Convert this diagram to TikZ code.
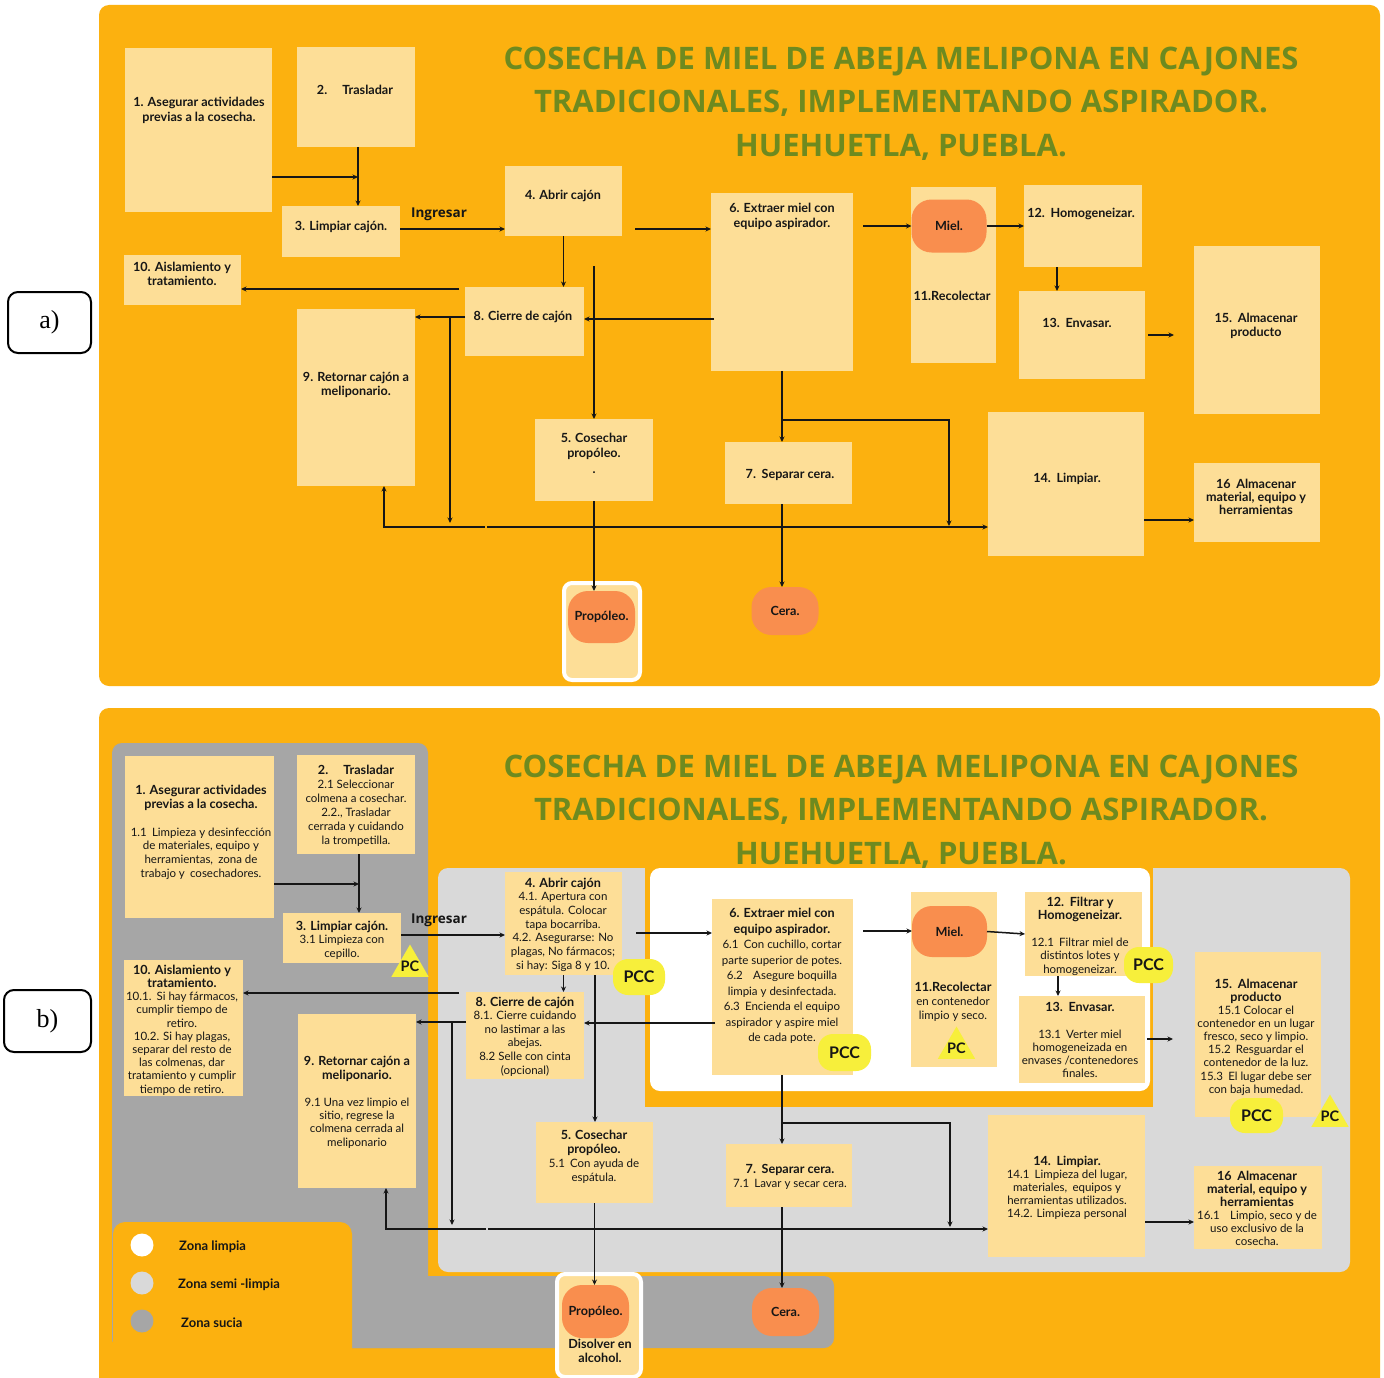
\documentclass[tikz,border=0pt]{standalone}
\usepackage{fontspec}
\setmainfont{Lato}
\newfontfamily\titlefont{Open Sans}
\newfontfamily\labfont{Liberation Serif}
\usetikzlibrary{shapes.geometric,arrows.meta}

\definecolor{bgor}{HTML}{FCB10F}
\definecolor{paley}{HTML}{FDDE97}
\definecolor{orc}{HTML}{F98E4E}
\definecolor{olive}{HTML}{6E8A1F}
\definecolor{dgray}{HTML}{A6A6A6}
\definecolor{lgray}{HTML}{D9D9D9}
\definecolor{ylw}{HTML}{F7EF3B}
\definecolor{ink}{HTML}{161616}

\newcommand\fs[2]{\fontsize{#1}{#2}\selectfont}
\newcommand\gp{\hspace{0.45em}}
% bold heading inside a step box, same line spacing as the box text
\newcommand\hb[1]{{\fontsize{12.6}{\the\baselineskip}\selectfont\bfseries #1}}
% box given by its corners (x1,y1) - (x2,y2), y growing downwards
\newcommand\mkbox[5]{\node[box,anchor=north west,minimum width={#4-#2},minimum height={#5-#3}] (#1) at (#2,#3) {};}

\tikzset{
  box/.style={fill=paley, inner sep=0, outer sep=0},
  tx/.style={align=center, inner sep=0, text=ink, font=\fs{11.5}{#1}, yshift=-2.5pt,
    execute at begin node=\strut, execute at end node=\strut},
  tx/.default=13.5,
  txa/.style={tx=#1, font=\fs{12.6}{#1}\bfseries},
  txa/.default=14,
  ttl/.style={align=center, inner sep=0, text=olive,
    font=\titlefont\bfseries\fs{31}{43.5},
    execute at begin node=\strut, execute at end node=\strut},
  ingr/.style={inner sep=0, text=ink, font=\titlefont\bfseries\fs{13.5}{16}},
  blob/.style={fill=orc, rounded corners=20pt, inner sep=0, outer sep=0, text=ink,
    font=\fs{12.6}{14}\bfseries},
  frame/.style={fill=paley, draw=white, line width=4pt, rounded corners=8pt, inner sep=0},
  pcc/.style={fill=ylw, rounded corners=15pt, inner sep=0, text=ink, font=\fs{16}{18}\bfseries},
  pc/.style={regular polygon, regular polygon sides=3, fill=ylw, inner sep=0, minimum size=43pt},
  pctx/.style={inner sep=0, text=ink, font=\fs{14.5}{16}\bfseries},
  lab/.style={draw=black, line width=2pt, rounded corners=10pt, fill=white, inner sep=0,
    font=\labfont\fs{26}{30}},
  dot/.style={circle, inner sep=0, minimum size=23pt},
  legtx/.style={anchor=west, inner sep=0, text=ink, font=\fs{13}{15}\bfseries},
  arr/.style={draw=ink, line width=1.5pt, -{Stealth[length=5.5pt,width=5pt]}},
}

\begin{document}
\begin{tikzpicture}[x=1pt,y=-1pt]
\useasboundingbox (0,0) rectangle (1384,1378);
\fill[white] (0,0) rectangle (1384,1378);

% ---------------- panel labels ----------------
\node[lab, minimum width=83, minimum height=61] (laba) at (49.5,322.5) {a)};
\node[lab, minimum width=87, minimum height=62] (labb) at (47.5,1021) {b)};

% ================= panel a =================
\fill[bgor, rounded corners=10pt] (99,5) rectangle (1380,686);
\node[ttl] (ttla) at (901,108) {COSECHA DE MIEL DE ABEJA MELIPONA EN CAJONES\\TRADICIONALES, IMPLEMENTANDO ASPIRADOR.\hspace*{0.8em}\\HUEHUETLA, PUEBLA.};

\mkbox{a1}{125}{48}{272}{212}
\mkbox{a2}{297}{47}{415}{147}
\mkbox{a3}{282}{206}{400}{257}
\mkbox{a4}{505}{166}{622}{236}
\mkbox{a6}{711}{193}{853}{371}
\mkbox{a11}{911}{187}{996}{363}
\mkbox{a12}{1024}{185}{1142}{267}
\mkbox{a13}{1019}{291}{1145}{379}
\mkbox{a15}{1194}{246}{1320}{414}
\mkbox{a10}{124}{255}{241}{305}
\mkbox{a8}{465}{287}{584}{356}
\mkbox{a9}{297}{309}{415}{486}
\mkbox{a5}{535}{419}{653}{501}
\mkbox{a7}{725}{442}{852}{504}
\mkbox{a14}{988}{412}{1144}{556}
\mkbox{a16}{1194}{463}{1320}{542}
\node[frame, minimum width=76, minimum height=97] (apf) at (602,631.5) {};
\node[blob, minimum width=75, minimum height=53] (amiel) at (949,226) {Miel.};
\node[blob, minimum width=67, minimum height=52] (aprop) at (601.5,617) {Propóleo.};
\node[blob, minimum width=67, minimum height=48] (acera) at (785,611) {Cera.};

\node[txa=15] (ta1) at (199,109) {1. Asegurar actividades\\previas a la cosecha.};
\node[txa] (ta2) at (355,89) {2.\hspace{1.2em}Trasladar};
\node[txa] (ta3) at (341,225) {3. Limpiar cajón.};
\node[ingr] (tinga) at (439,214) {Ingresar};
\node[txa] (ta4) at (563,194) {4. Abrir cajón};
\node[txa=15.5] (ta6) at (782,215) {6. Extraer miel con\\equipo aspirador.};
\node[txa] (ta11) at (952,295) {11.Recolectar};
\node[txa] (ta12) at (1081,212) {12.\gp Homogeneizar.};
\node[txa] (ta13) at (1077,322) {13.\gp Envasar.};
\node[txa] (ta15) at (1256,324) {15.\gp Almacenar\\producto};
\node[txa] (ta10) at (182,273) {10. Aislamiento y\\tratamiento.};
\node[txa] (ta8) at (523,315) {8. Cierre de cajón};
\node[txa] (ta9) at (356,383) {9. Retornar cajón a\\meliponario.};
\node[txa=15.5] (ta5) at (594,453) {5. Cosechar\\propóleo.\\.};
\node[txa] (ta7) at (790,473) {7.\gp Separar cera.};
\node[txa] (ta14) at (1067,477) {14.\gp Limpiar.};
\node[txa=13] (ta16) at (1256,496) {16\gp Almacenar\\material, equipo y\\herramientas};

% connectors, panel a
\coordinate (ja1) at (358,177);
\draw[arr] (a1.east |- ja1) -- (ja1);
\draw[arr] (a2.south -| ja1) -- (a3.north -| ja1);
\coordinate (ja3) at (450,229);
\draw[arr] (a3.east |- ja3) -- (a4.west |- ja3);
\coordinate (ja4) at (635,229);
\draw[arr] (ja4) -- (a6.west |- ja4);
\draw[arr] (a4.south) -- (a4.south |- a8.north);
\coordinate (ja5) at (594,266);
\draw[arr] (ja5) -- (a5.north -| ja5);
\coordinate (ja7) at (714,319);
\draw[arr] (ja7) -- (a8.east |- ja7);
\coordinate (ja8) at (450,317);
\draw[arr] (a8.west |- ja8) -- (a9.east |- ja8);
\coordinate (ja10) at (459,289);
\draw[arr] (ja10) -- (a10.east |- ja10);
\coordinate (ja8d) at (450,523);
\draw[arr] (ja8) -- (ja8d);
\coordinate (jab) at (485,527);
\coordinate (jac) at (384,527);
\draw[arr] (jab) -- (jac) -- (a9.south -| jac);
\coordinate (jad) at (487,527);
\draw[arr] (jad) -- (a14.west |- jad);
\coordinate (ja67) at (782,420);
\draw[arr] (a6.south -| ja67) -- (a7.north -| ja67);
\coordinate (ja13) at (949,526);
\draw[arr] (ja67) -| (ja13);
\draw[arr] (a5.south) -- (a5.south |- aprop.north);
\draw[arr] (a7.south -| ja67) -- (acera.north -| ja67);
\coordinate (ja16) at (863,226);
\draw[arr] (ja16) -- (amiel.west |- ja16);
\draw[arr] (amiel.east) -- (a12.west |- amiel.east);
\coordinate (ja18) at (1057,280);
\draw[arr] (a12.south -| ja18) -- (a13.north -| ja18);
\coordinate (ja19) at (1148,335);
\coordinate (ja19e) at (1174,335);
\draw[arr] (ja19) -- (ja19e);
\coordinate (ja20) at (0,520);
\draw[arr] (a14.east |- ja20) -- (a16.west |- ja20);

% ================= panel b =================
\fill[bgor, rounded corners=10pt] (99,708) rectangle (1380,1400);
% zones: dirty (dark gray), semi-clean (light gray), clean (white)
\fill[dgray, rounded corners=10pt] (112,743) rectangle (428,1348);
\fill[dgray, rounded corners=10pt] (112,1276) rectangle (834,1348);
\fill[lgray, rounded corners=10pt] (438,868) rectangle (1350,1272);
\fill[bgor] (645,860) rectangle (1153,1107);
\fill[white, rounded corners=10pt] (650,868) rectangle (1150,1091);
\fill[bgor, rounded corners=12pt] (113,1222) rectangle (352,1400);

\node[ttl] (ttlb) at (901,816) {COSECHA DE MIEL DE ABEJA MELIPONA EN CAJONES\\TRADICIONALES, IMPLEMENTANDO ASPIRADOR.\hspace*{0.8em}\\HUEHUETLA, PUEBLA.};

\mkbox{b1}{125}{756}{274}{918}
\mkbox{b2}{297}{755}{415}{854}
\mkbox{b3}{283}{913}{401}{963}
\mkbox{b4}{505}{872}{622}{975}
\mkbox{b6}{712}{899}{853}{1075}
\mkbox{b11}{911}{892}{997}{1067}
\mkbox{b12}{1025}{892}{1142}{976}
\mkbox{b13}{1019}{996}{1145}{1083}
\mkbox{b15}{1195}{952}{1321}{1117}
\mkbox{b10}{124}{960}{243}{1096}
\mkbox{b8}{466}{992}{584}{1079}
\mkbox{b9}{298}{1014}{416}{1188}
\mkbox{b5}{536}{1122}{653}{1203}
\mkbox{b7}{726}{1144}{852}{1207}
\mkbox{b14}{988}{1115}{1145}{1257}
\mkbox{b16}{1194}{1166}{1322}{1249}
\node[frame, minimum width=84, minimum height=103] (bpf) at (599,1325.5) {};
\node[blob, minimum width=75, minimum height=51] (bmiel) at (949.5,931.5) {Miel.};
\node[blob, minimum width=67, minimum height=53] (bprop) at (595.5,1311.5) {Propóleo.};
\node[blob, minimum width=67, minimum height=48] (bcera) at (785.5,1312) {Cera.};

\node[tx=13.8] (tb1) at (201,831) {\hb{1. Asegurar actividades}\\\hb{previas a la cosecha.}\\[13.8pt]1.1\gp Limpieza y desinfección\\de materiales, equipo y\\herramientas,\gp zona de\\trabajo y\gp cosechadores.};
\node[tx=14] (tb2) at (356,804) {\hb{2.\hspace{1.2em}Trasladar}\\2.1 Seleccionar\\colmena a cosechar.\\2.2., Trasladar\\cerrada y cuidando\\la trompetilla.};
\node[tx=13.5] (tb3) at (342,938.5) {\hb{3. Limpiar cajón.}\\3.1 Limpieza con\\cepillo.};
\node[ingr] (tingb) at (439,920) {Ingresar};
\node[tx=13.7] (tb4) at (563,923) {\hb{4. Abrir cajón}\\4.1. Apertura con\\espátula. Colocar\\tapa bocarriba.\\4.2. Asegurarse: No\\plagas, No fármacos;\\si hay: Siga 8 y 10.};
\node[tx=13.6] (tb8) at (525,1035) {\hb{8. Cierre de cajón}\\8.1. Cierre cuidando\\no lastimar a las\\abejas.\\8.2 Selle con cinta\\(opcional)};
\node[tx=13.2] (tb10) at (182,1028.5) {\hb{10. Aislamiento y}\\\hb{tratamiento.}\\10.1.\gp Si hay fármacos,\\cumplir tiempo de\\retiro.\\10.2. Si hay plagas,\\separar del resto de\\las colmenas, dar\\tratamiento y cumplir\\tiempo de retiro.};
\node[tx=13.4] (tb9) at (357,1101) {\hb{9. Retornar cajón a}\\\hb{meliponario.}\\[13.4pt]9.1 Una vez limpio el\\sitio, regrese la\\colmena cerrada al\\meliponario};
\node[tx=14.3] (tb5) at (594,1155.5) {\hb{5. Cosechar}\\\hb{propóleo.}\\5.1\gp Con ayuda de\\espátula.};
\node[tx=15.5] (tb6) at (782,975) {\hb{6. Extraer miel con}\\\hb{equipo aspirador.}\\6.1\gp Con cuchillo, cortar\\parte superior de potes.\\6.2\hspace{0.9em}Asegure boquilla\\limpia y desinfectada.\\6.3\gp Encienda el equipo\\aspirador y aspire miel\\de cada pote.};
\node[tx=14] (tb11) at (953,1000) {\hb{11.Recolectar}\\en contenedor\\limpio y seco.};
\node[tx=13.4] (tb12) at (1080,934.5) {\hb{12.\gp Filtrar y}\\\hb{Homogeneizar.}\\[13.4pt]12.1\gp Filtrar miel de\\distintos lotes y\\homogeneizar.};
\node[tx=13.1] (tb13) at (1080,1039.5) {\hb{13.\gp Envasar.}\\[13.1pt]13.1\gp Verter miel\\homogeneizada en\\envases /contenedores\\finales.};
\node[tx=13.1] (tb15) at (1256,1035.5) {\hb{15.\gp Almacenar}\\\hb{producto}\\15.1 Colocar el\\contenedor en un lugar\\fresco, seco y limpio.\\15.2\gp Resguardar el\\contenedor de la luz.\\15.3\gp El lugar debe ser\\con baja humedad.};
\node[tx=14] (tb7) at (790,1175) {\hb{7.\gp Separar cera.}\\7.1\gp Lavar y secar cera.};
\node[tx=13] (tb14) at (1067,1186) {\hb{14.\gp Limpiar.}\\14.1\gp Limpieza del lugar,\\materiales,\gp equipos y\\herramientas utilizados.\\14.2. Limpieza personal};
\node[tx=13] (tb16) at (1257,1207.5) {\hb{16\gp Almacenar}\\\hb{material, equipo y}\\\hb{herramientas}\\16.1\hspace{0.9em}Limpio, seco y de\\uso exclusivo de la\\cosecha.};
\node[txa=14] (tbprop) at (600,1350) {Disolver en\\alcohol.};

% control points
\node[pcc, minimum width=52, minimum height=36] (pcc4) at (639,977) {PCC};
\node[pcc, minimum width=53, minimum height=37] (pcc6) at (844.5,1052.5) {PCC};
\node[pcc, minimum width=49, minimum height=36] (pcc12) at (1148.5,965) {PCC};
\node[pcc, minimum width=53, minimum height=35] (pcc15) at (1256.5,1115.5) {PCC};
\node[pc] (pc3) at (410,966) {};
\node[pctx] at (pc3) {PC};
\node[pc] (pc11) at (956.5,1048) {};
\node[pctx] at (pc11) {PC};
\node[pc] (pc15) at (1330,1116) {};
\node[pctx] at (pc15) {PC};

% legend
\node[dot, fill=white] (lg1) at (142,1245) {};
\node[dot, fill=lgray] (lg2) at (142,1283) {};
\node[dot, fill=dgray] (lg3) at (142,1321) {};
\node[legtx] (lgt1) at (179,1247) {Zona limpia};
\node[legtx] (lgt2) at (178,1285) {Zona semi -limpia};
\node[legtx] (lgt3) at (181,1323) {Zona sucia};

% connectors, panel b
\coordinate (jb1) at (359,884);
\draw[arr] (b1.east |- jb1) -- (jb1);
\draw[arr] (b2.south -| jb1) -- (b3.north -| jb1);
\coordinate (jb3) at (450,935);
\draw[arr] (b3.east |- jb3) -- (b4.west |- jb3);
\coordinate (jb4) at (636,933);
\draw[arr] (jb4) -- (b6.west |- jb4);
\draw[arr] (b4.south) -- (b4.south |- b8.north);
\coordinate (jb5) at (595,1000);
\draw[arr] (b4.south -| jb5) -- (b5.north -| jb5);
\coordinate (jb7) at (715,1023);
\draw[arr] (jb7) -- (b8.east |- jb7);
\coordinate (jb8) at (452,1022);
\draw[arr] (b8.west |- jb8) -- (b9.east |- jb8);
\coordinate (jb10) at (459,993);
\draw[arr] (jb10) -- (b10.east |- jb10);
\coordinate (jb8d) at (452,1225);
\draw[arr] (jb8) -- (jb8d);
\coordinate (jbb) at (486,1229);
\coordinate (jbc) at (386,1229);
\draw[arr] (jbb) -- (jbc) -- (b9.south -| jbc);
\coordinate (jbd) at (488,1229);
\draw[arr] (jbd) -- (b14.west |- jbd);
\coordinate (jb67) at (782,1123);
\draw[arr] (b6.south -| jb67) -- (b7.north -| jb67);
\coordinate (jb13) at (950,1227);
\draw[arr] (jb67) -| (jb13);
\draw[arr] (b5.south) -- (b5.south |- bprop.north);
\draw[arr] (b7.south -| jb67) -- (bcera.north -| jb67);
\coordinate (jb16) at (863,931);
\draw[arr] (jb16) -- (bmiel.west |- jb16);
\coordinate (jb17) at (1000,934);
\draw[arr] (bmiel.east) -- (b12.west |- jb17);
\coordinate (jb18) at (1058,980);
\draw[arr] (b12.south -| jb18) -- (b13.north -| jb18);
\coordinate (jb19) at (1147,1039);
\coordinate (jb19e) at (1173,1039);
\draw[arr] (jb19) -- (jb19e);
\coordinate (jb20) at (0,1222);
\draw[arr] (b14.east |- jb20) -- (b16.west |- jb20);
\end{tikzpicture}
\end{document}
